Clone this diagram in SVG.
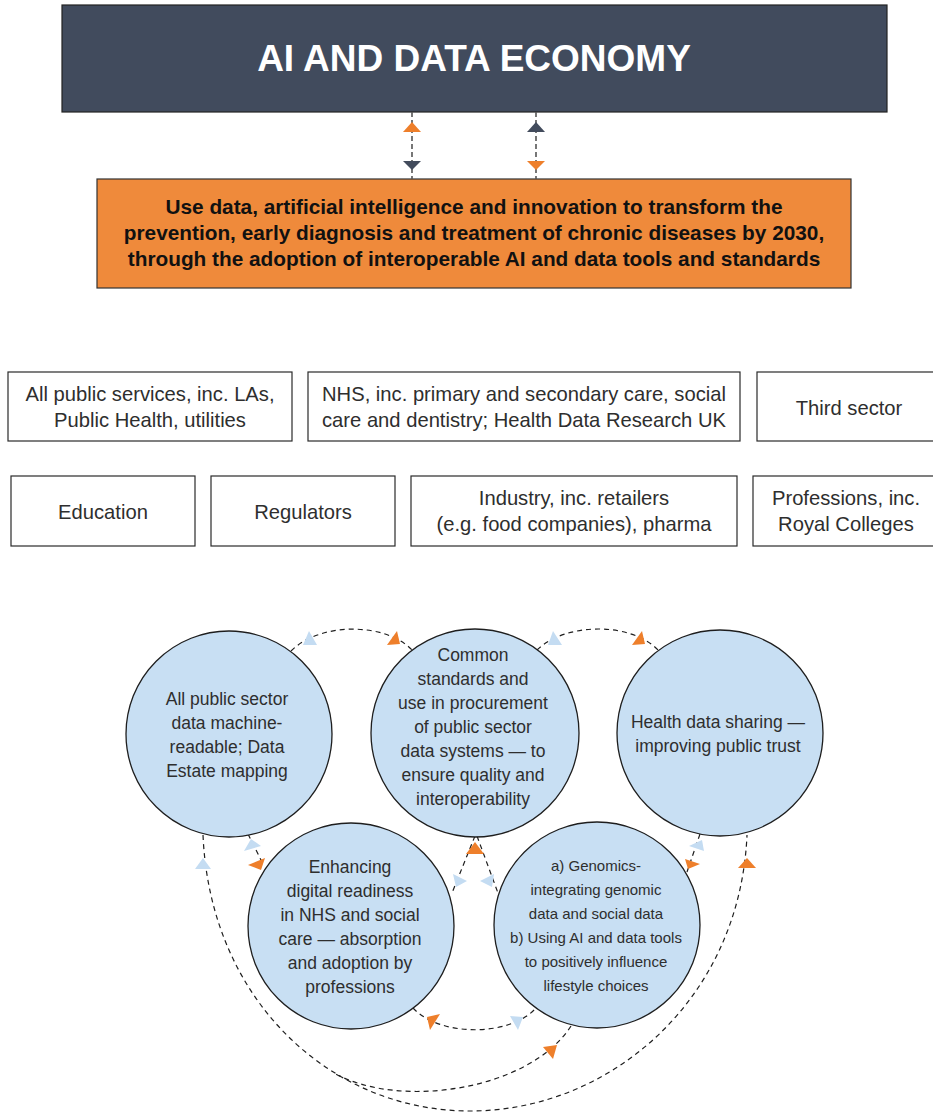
<svg xmlns="http://www.w3.org/2000/svg" width="933" height="1113" viewBox="0 0 933 1113">
<style>
.t{font-family:"Liberation Sans",Arial,sans-serif;fill:#2e2e2e;text-anchor:middle}
.box{fill:#fff;stroke:#2a2a2a;stroke-width:1.2}
.circ{fill:#c8dff3;stroke:#1e1e1e;stroke-width:1.3}
.bt{font-size:20.2px}
.ct{font-size:17.5px}
.ct2{font-size:15px}
.dash{fill:none;stroke:#1e1e1e;stroke-width:1.2;stroke-dasharray:5 4}
.vdash{fill:none;stroke:#555;stroke-width:1.6;stroke-dasharray:5 3}
.or{fill:#ee7f2b}
.bl{fill:#c4dcf2}
.dk{fill:#424b5c}
</style>
<rect width="933" height="1113" fill="#fff"/>

<g id="economy">
<rect x="62" y="5" width="825" height="107" fill="#414b5d" stroke="#222" stroke-width="1.2"/>
<text x="474" y="71" font-family="Liberation Sans,Arial,sans-serif" font-weight="bold" font-size="37" fill="#fff" text-anchor="middle">AI AND DATA ECONOMY</text>
</g>

<g id="mission">
<rect x="97" y="179" width="754" height="109" fill="#ef8a3b" stroke="#333" stroke-width="1.2"/>
<g font-family="Liberation Sans,Arial,sans-serif" font-weight="bold" font-size="20.8" fill="#111" text-anchor="middle">
<text x="474" y="214">Use data, artificial intelligence and innovation to transform the</text>
<text x="474" y="240">prevention, early diagnosis and treatment of chronic diseases by 2030,</text>
<text x="474" y="266">through the adoption of interoperable AI and data tools and standards</text>
</g>
</g>

<g id="box-public"><rect class="box" x="8" y="372" width="284" height="69"/>
<text class="t bt" x="150" y="401">All public services, inc. LAs,</text>
<text class="t bt" x="150" y="427">Public Health, utilities</text></g>
<g id="box-nhs"><rect class="box" x="308" y="372" width="432" height="69"/>
<text class="t bt" x="524" y="401">NHS, inc. primary and secondary care, social</text>
<text class="t bt" x="524" y="427">care and dentistry; Health Data Research UK</text></g>
<g id="box-third"><rect class="box" x="757" y="372" width="190" height="69"/>
<text class="t bt" x="849" y="415">Third sector</text></g>
<g id="box-education"><rect class="box" x="11" y="476" width="184" height="70"/>
<text class="t bt" x="103" y="519">Education</text></g>
<g id="box-regulators"><rect class="box" x="211" y="476" width="184" height="70"/>
<text class="t bt" x="303" y="519">Regulators</text></g>
<g id="box-industry"><rect class="box" x="411" y="476" width="326" height="70"/>
<text class="t bt" x="574" y="505">Industry, inc. retailers</text>
<text class="t bt" x="574" y="531">(e.g. food companies), pharma</text></g>
<g id="box-professions"><rect class="box" x="753" y="476" width="190" height="70"/>
<text class="t bt" x="846" y="505">Professions, inc.</text>
<text class="t bt" x="846" y="531">Royal Colleges</text></g>

<g id="connectors">
<line class="vdash" x1="412" y1="112" x2="412" y2="179"/>
<line class="vdash" x1="536" y1="112" x2="536" y2="179"/>
<polygon class="or" points="412,122 403,132 421,132"/>
<polygon class="dk" points="403,161 421,161 412,170"/>
<polygon class="dk" points="536,122 527,132 545,132"/>
<polygon class="or" points="527,161 545,161 536,170"/>

<path class="dash" d="M291,651 C320,622 385,622 412,650"/>
<path class="dash" d="M537,650 C566,622 631,622 658,650"/>
<path class="dash" d="M248,834 L264,866"/>
<path class="dash" d="M700,834 L687,872"/>
<path class="dash" d="M475,836 L452,893"/>
<path class="dash" d="M477,836 L498,893"/>
<path class="dash" d="M413,1008 C440,1037 510,1037 536,1008"/>
<path class="dash" d="M203,835 C210,1000 330,1111 470,1111 C610,1111 740,1000 747,835"/>
<path class="dash" d="M571,1026 C530,1090 400,1110 334,1073"/>

<polygon class="bl" points="309,631 303,645 317,645"/>
<polygon class="or" points="397,631 387,645 400,644"/>
<polygon class="bl" points="553,631 548,645 562,645"/>
<polygon class="or" points="642,631 632,645 645,644"/>
<polygon class="bl" points="251,839 244,851 261,846"/>
<polygon class="or" points="248,865 265,858 261,870"/>
<polygon class="bl" points="689,846 702,840 704,851"/>
<polygon class="or" points="685,859 700,864 688,869"/>
<polygon class="or" points="475,842 466,854 484,854"/>
<polygon class="bl" points="453,874 467,881 456,887"/>
<polygon class="bl" points="494,874 480,881 492,887"/>
<polygon class="or" points="427,1017 440,1014 430,1030"/>
<polygon class="bl" points="510,1016 523,1017 518,1030"/>
<polygon class="or" points="543,1047 557,1045 553,1059"/>
<polygon class="bl" points="203,858 195,869 211,869"/>
<polygon class="or" points="747,858 738,868 756,868"/>
</g>

<g id="c-public"><circle class="circ" cx="229" cy="734" r="103"/>
<text class="t ct" x="227" y="705">All public sector</text>
<text class="t ct" x="227" y="729">data machine-</text>
<text class="t ct" x="227" y="753">readable; Data</text>
<text class="t ct" x="227" y="777">Estate mapping</text></g>

<g id="c-standards"><circle class="circ" cx="475" cy="733" r="104"/>
<text class="t ct" x="473" y="661">Common</text>
<text class="t ct" x="473" y="685">standards and</text>
<text class="t ct" x="473" y="709">use in procurement</text>
<text class="t ct" x="473" y="733">of public sector</text>
<text class="t ct" x="473" y="757">data systems — to</text>
<text class="t ct" x="473" y="781">ensure quality and</text>
<text class="t ct" x="473" y="805">interoperability</text></g>

<g id="c-health"><circle class="circ" cx="720" cy="733" r="103"/>
<text class="t ct" x="718" y="728">Health data sharing —</text>
<text class="t ct" x="718" y="752">improving public trust</text></g>

<g id="c-digital"><circle class="circ" cx="351" cy="926" r="103"/>
<text class="t ct" x="350" y="873">Enhancing</text>
<text class="t ct" x="350" y="897">digital readiness</text>
<text class="t ct" x="350" y="921">in NHS and social</text>
<text class="t ct" x="350" y="945">care — absorption</text>
<text class="t ct" x="350" y="969">and adoption by</text>
<text class="t ct" x="350" y="993">professions</text></g>

<g id="c-genomics"><circle class="circ" cx="597" cy="925" r="103"/>
<text class="t ct2" x="596" y="871">a) Genomics-</text>
<text class="t ct2" x="596" y="895">integrating genomic</text>
<text class="t ct2" x="596" y="919">data and social data</text>
<text class="t ct2" x="596" y="943">b) Using AI and data tools</text>
<text class="t ct2" x="596" y="967">to positively influence</text>
<text class="t ct2" x="596" y="991">lifestyle choices</text></g>
</svg>
